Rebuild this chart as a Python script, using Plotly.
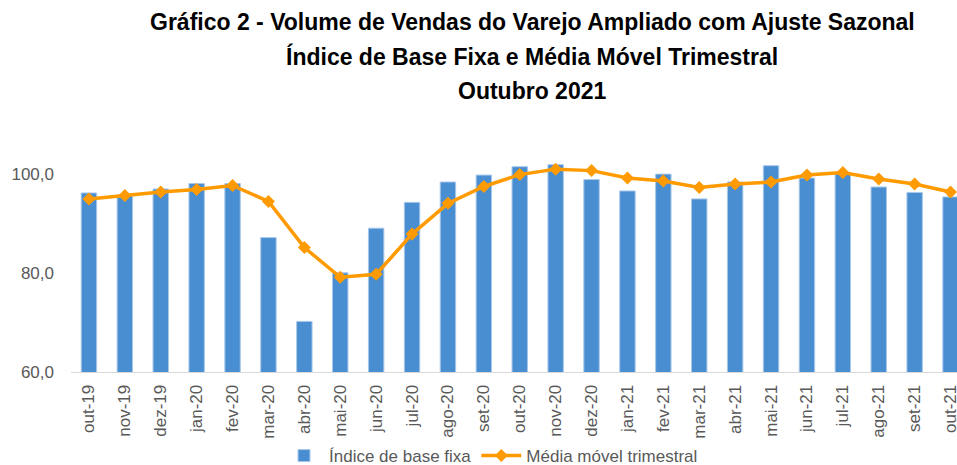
import plotly.graph_objects as go

categories = ["out-19", "nov-19", "dez-19", "jan-20", "fev-20", "mar-20", "abr-20", "mai-20",
              "jun-20", "jul-20", "ago-20", "set-20", "out-20", "nov-20", "dez-20", "jan-21",
              "fev-21", "mar-21", "abr-21", "mai-21", "jun-21", "jul-21", "ago-21", "set-21", "out-21"]
indice_base_fixa = [96.1, 95.6, 96.9, 98.0, 98.0, 87.1, 70.2, 80.0, 89.0, 94.2, 98.3, 99.7,
                    101.4, 101.8, 98.8, 96.5, 99.9, 94.9, 98.3, 101.6, 99.1, 100.2, 97.3, 96.2, 95.3]
media_movel = [94.9, 95.6, 96.3, 96.8, 97.6, 94.4, 85.1, 79.1, 79.7, 87.8, 94.0, 97.4,
               99.8, 100.9, 100.6, 99.1, 98.5, 97.2, 97.9, 98.3, 99.7, 100.2, 98.9, 97.9, 96.3]
title_lines = ["Gráfico 2 - Volume de Vendas do Varejo Ampliado com Ajuste Sazonal",
               "Índice de Base Fixa e Média Móvel Trimestral",
               "Outubro 2021"]

x_idx = list(range(len(categories)))

fig = go.Figure()
fig.add_trace(go.Bar(
    x=x_idx, y=indice_base_fixa, name="Índice de base fixa",
    marker=dict(color="#4A8ED2", line=dict(color="#A9C8EA", width=1)),
    width=0.43,
))
fig.add_trace(go.Scatter(
    x=x_idx, y=media_movel, name="Média móvel trimestral",
    mode="lines+markers",
    line=dict(color="#FF9A00", width=3.5),
    marker=dict(symbol="diamond", size=10, color="#FF9A00"),
))

font_family = "Liberation Sans, Arial, sans-serif"
plot_left, plot_right, plot_top, plot_bottom = 71, 957, 124, 372
pw = plot_right - plot_left
ph = plot_bottom - plot_top
annotations = []
for txt, ypx in zip(title_lines, [22, 57, 91]):
    annotations.append(dict(
        text="<b>%s</b>" % txt, x=(532 - plot_left) / pw, xref="paper",
        y=(plot_bottom - ypx) / ph, yref="paper",
        showarrow=False, font=dict(family=font_family, size=23, color="#000000"),
        xanchor="center", yanchor="middle",
    ))

fig.update_layout(
    width=957, height=465,
    margin=dict(l=plot_left, r=957 - plot_right, t=plot_top, b=465 - plot_bottom, autoexpand=False),
    paper_bgcolor="white", plot_bgcolor="white",
    separators=",.",
    showlegend=True,
    legend=dict(orientation="h", x=279 / 957, xanchor="left", xref="container",
                y=(465 - 456) / 465, yanchor="middle", yref="container",
                font=dict(family=font_family, size=17, color="#595959"),
                bgcolor="rgba(0,0,0,0)",
                itemwidth=40, tracegroupgap=0, borderwidth=0),
    annotations=annotations,
    bargap=0.5,
)
fig.update_xaxes(
    tickmode="array", tickvals=x_idx, ticktext=categories, tickangle=-90,
    range=[-0.5, 24.18], showline=True, linecolor="#D9D9D9", linewidth=1,
    showgrid=False, ticks="", automargin=False, ticklabeloverflow="allow",
    ticklabelstandoff=5,
    tickfont=dict(family=font_family, size=17, color="#595959"),
)
fig.update_yaxes(
    range=[60, 110], tickvals=[60, 80, 100], tickformat=".1f",
    showgrid=False, zeroline=False, showline=False, ticks="", automargin=False,
    ticklabelstandoff=16,
    tickfont=dict(family=font_family, size=17, color="#595959"),
)

fig.write_html("out.html")
